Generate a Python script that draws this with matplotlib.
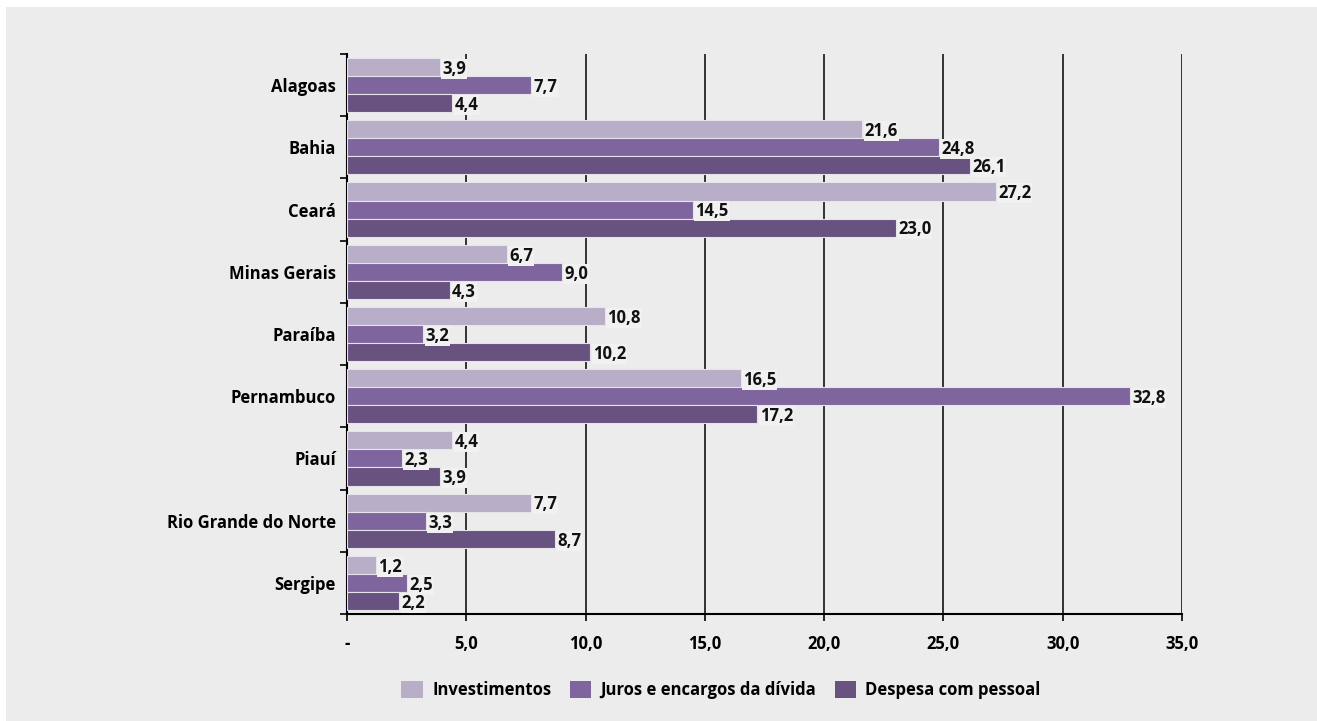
import matplotlib.pyplot as plt
import matplotlib.patches as mpatches
import numpy as np

plt.rcParams['font.family'] = ['Open Sans', 'DejaVu Sans']

estados = ['Alagoas', 'Bahia', 'Ceará', 'Minas Gerais', 'Paraíba',
           'Pernambuco', 'Piauí', 'Rio Grande do Norte', 'Sergipe']
investimentos = [3.9, 21.6, 27.2, 6.7, 10.8, 16.5, 4.4, 7.7, 1.2]
juros = [7.7, 24.8, 14.5, 9.0, 3.2, 32.8, 2.3, 3.3, 2.5]
pessoal = [4.4, 26.1, 23.0, 4.3, 10.2, 17.2, 3.9, 8.7, 2.2]
series_nomes = ['Investimentos', 'Juros e encargos da dívida', 'Despesa com pessoal']
xticks = [0, 5, 10, 15, 20, 25, 30, 35]
xlabels = ['-', '5,0', '10,0', '15,0', '20,0', '25,0', '30,0', '35,0']

cores = ['#b8aec8', '#7f659e', '#68527f']
bg = '#ebeceb'

fig = plt.figure(figsize=(13.17, 7.21), dpi=100)
fig.patch.set_facecolor('white')
fig.patches.append(mpatches.Rectangle((6 / 1317, 0), 1, 1 - 7 / 721,
                                      transform=fig.transFigure,
                                      facecolor=bg, edgecolor='none', zorder=-10))
ax = fig.add_axes([347 / 1317, 1 - 614 / 721, (1182 - 347) / 1317, 560 / 721])
ax.set_facecolor(bg)

y = np.arange(len(estados))
h = 0.29
for i, (vals, cor) in enumerate(zip([investimentos, juros, pessoal], cores)):
    pos = y + (i - 1) * h
    ax.barh(pos, vals, height=h, color=cor, edgecolor='#e6e3ea', linewidth=0.8,
            zorder=3, label=series_nomes[i])
    for p, v in zip(pos, vals):
        ax.text(v + 0.1, p + 0.03, f'{v:.1f}'.replace('.', ','), ha='left', va='center',
                fontsize=12, fontweight='bold', color='#111111', zorder=4,
                bbox=dict(boxstyle='square,pad=0.06', facecolor='#f0f1f0',
                          edgecolor='none'))

ax.set_xlim(0, 35)
ax.set_ylim(len(estados) - 0.5, -0.5)
ax.set_xticks(xticks)
ax.set_xticklabels(xlabels, fontsize=12, fontweight='bold')
ax.set_yticks(y)
ax.set_yticklabels(estados, fontsize=12, fontweight='bold')
ax.set_yticks(np.arange(len(estados) + 1) - 0.5, minor=True)
ax.tick_params(axis='y', which='major', length=0, pad=8)
ax.tick_params(axis='y', which='minor', length=5, width=1.2, direction='out')
ax.tick_params(axis='x', length=5, width=1.2, direction='out', pad=10)
ax.grid(axis='x', color='black', linewidth=1.1, zorder=1)
ax.set_axisbelow(True)
for s in ['top', 'right']:
    ax.spines[s].set_visible(False)
for s in ['left', 'bottom']:
    ax.spines[s].set_linewidth(1.5)
    ax.spines[s].set_color('black')

leg = fig.legend(loc='center', bbox_to_anchor=(721 / 1317, 1 - 690 / 721), ncol=3,
                 frameon=False, prop={'weight': 'bold', 'size': 12},
                 handlelength=1.3, handleheight=1.2, handletextpad=0.55,
                 columnspacing=1.1)
for hnd in leg.legend_handles:
    hnd.set_edgecolor('none')

fig.savefig('out.png', dpi=100, facecolor=fig.get_facecolor())
